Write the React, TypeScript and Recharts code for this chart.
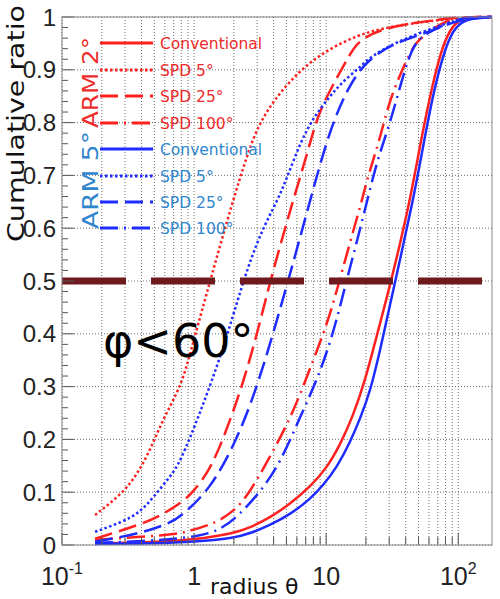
import React from 'react';
import { LineChart, Line, XAxis, YAxis, CartesianGrid, ReferenceLine } from 'recharts';

// ---- data (x = radius θ, y = cumulative ratio) ----
const arm2Conventional: [number, number][] = [
  [0.178, 0.003], [0.5, 0.005], [1, 0.01], [2, 0.022], [2.66, 0.033], [3.77, 0.052], [5.34, 0.078],
  [7.56, 0.11], [10.18, 0.147], [12.76, 0.19], [16, 0.245], [19.75, 0.312], [24.35, 0.4], [31.1, 0.5],
  [43.3, 0.653], [51.5, 0.76], [64.7, 0.88], [77, 0.95], [91, 0.985], [109, 0.998], [130, 1], [180, 1],
];
const arm2Spd5: [number, number][] = [
  [0.178, 0.057], [0.29, 0.098], [0.39, 0.142], [0.49, 0.193], [0.58, 0.237], [0.69, 0.272],
  [0.83, 0.315], [1.0, 0.39], [1.32, 0.5], [1.97, 0.653], [2.5, 0.735], [3.0, 0.79], [4.0, 0.843],
  [6.35, 0.9], [10.2, 0.938], [17.5, 0.966], [27, 0.979], [50, 0.99], [100, 0.998], [180, 1],
];
const arm2Spd25: [number, number][] = [
  [0.178, 0.012], [0.41, 0.04], [0.58, 0.058], [0.83, 0.083], [0.98, 0.1], [1.3, 0.14], [1.66, 0.2],
  [2.31, 0.3], [3.0, 0.4], [3.77, 0.5], [4.89, 0.6], [5.62, 0.653], [7.16, 0.74], [8, 0.785],
  [9.2, 0.83], [12.1, 0.886], [15.2, 0.93], [17.5, 0.955], [27, 0.98], [65, 0.994], [103, 1], [180, 1],
];
const arm2Spd100: [number, number][] = [
  [0.178, 0.01], [0.69, 0.019], [0.88, 0.025], [1.49, 0.042], [2.0, 0.065], [2.52, 0.091],
  [3.77, 0.167], [5.62, 0.25], [7.98, 0.35], [10.2, 0.42], [12.3, 0.49], [15.2, 0.575], [18.7, 0.653],
  [20.5, 0.695], [25.6, 0.77], [30.6, 0.85], [43.5, 0.935], [49, 0.956], [73, 0.989], [103, 1], [180, 1],
];
const arm5Conventional: [number, number][] = [
  [0.178, 0.002], [0.5, 0.003], [1, 0.006], [2, 0.013], [2.66, 0.022], [3.77, 0.038], [5.34, 0.058],
  [7.56, 0.087], [9.49, 0.113], [12.1, 0.148], [15.2, 0.195], [18.1, 0.24], [21.5, 0.29], [25.7, 0.37],
  [33.3, 0.5], [45.6, 0.653], [54.6, 0.76], [64.7, 0.856], [77, 0.93], [91, 0.975], [109, 0.994],
  [150, 1], [180, 1],
];
const arm5Spd5: [number, number][] = [
  [0.178, 0.025], [0.29, 0.044], [0.39, 0.062], [0.49, 0.09], [0.66, 0.13], [0.78, 0.155],
  [1.11, 0.25], [1.66, 0.37], [2.35, 0.5], [3.16, 0.59], [4.33, 0.655], [5.07, 0.697], [6.35, 0.761],
  [8, 0.81], [10.7, 0.85], [13, 0.875], [18, 0.905], [23, 0.93], [36, 0.955], [65, 0.98], [110, 0.998],
  [180, 1],
];
const arm5Spd25: [number, number][] = [
  [0.178, 0.006], [0.41, 0.023], [0.66, 0.042], [0.78, 0.053], [1.32, 0.104], [2.12, 0.2], [3.0, 0.3],
  [3.96, 0.4], [5.15, 0.5], [6.35, 0.583], [7.57, 0.653], [10.7, 0.79], [15.2, 0.875], [20.5, 0.918],
  [32, 0.95], [58, 0.97], [98, 0.995], [180, 1],
];
const arm5Spd100: [number, number][] = [
  [0.178, 0.004], [0.5, 0.008], [1.11, 0.016], [1.6, 0.03], [2.12, 0.053], [3.16, 0.1], [4.49, 0.155],
  [6.35, 0.243], [8.55, 0.3125], [11.3, 0.4], [13.9, 0.49], [17.2, 0.578], [20.5, 0.653], [24.4, 0.73],
  [30.6, 0.8], [38.6, 0.894], [46, 0.95], [58, 0.97], [92, 0.994], [120, 1], [180, 1],
];

const xTicks = [
  0.1, 0.2, 0.3, 0.4, 0.5, 0.6, 0.7, 0.8, 0.9,
  1, 2, 3, 4, 5, 6, 7, 8, 9,
  10, 20, 30, 40, 50, 60, 70, 80, 90,
  100,
];
const xDecades: Record<string, [string, string]> = { '0.1': ['10', '-1'], '1': ['1', ''], '10': ['10', ''], '100': ['10', '2'] };
const yTicks = Array.from({ length: 51 }, (_, i) => i / 50);
const yMajor = [0, 0.1, 0.2, 0.3, 0.4, 0.5, 0.6, 0.7, 0.8, 0.9, 1];
const yLabels = ['0', '0.1', '0.2', '0.3', '0.4', '0.5', '0.6', '0.7', '0.8', '0.9', '1'];

const RED = '#ff2020';
const BLUE = '#1f2cff';
const RED_TXT = '#ee2a2a';
const BLUE_TXT = '#2f86cc';
const DOT = '2.5 2.5';
const DASH = '18 7';
const DASHDOT = '18 6 2 6';

const series = [
  { name: 'ARM 2° Conventional', data: arm2Conventional, color: RED, dash: undefined as string | undefined },
  { name: 'ARM 2° SPD 5°', data: arm2Spd5, color: RED, dash: DOT },
  { name: 'ARM 2° SPD 25°', data: arm2Spd25, color: RED, dash: DASH },
  { name: 'ARM 2° SPD 100°', data: arm2Spd100, color: RED, dash: DASHDOT },
  { name: 'ARM 5° Conventional', data: arm5Conventional, color: BLUE, dash: undefined as string | undefined },
  { name: 'ARM 5° SPD 5°', data: arm5Spd5, color: BLUE, dash: DOT },
  { name: 'ARM 5° SPD 25°', data: arm5Spd25, color: BLUE, dash: DASH },
  { name: 'ARM 5° SPD 100°', data: arm5Spd100, color: BLUE, dash: DASHDOT },
];
const legendLabels = ['Conventional', 'SPD 5°', 'SPD 25°', 'SPD 100°', 'Conventional', 'SPD 5°', 'SPD 25°', 'SPD 100°'];

const toPts = (arr: [number, number][]) => arr.map(([x, y]) => ({ x, y }));

const W = 500;
const H = 599;
const PLOT = { left: 62, top: 17, right: 492, bottom: 545 };

const XTick = (props: any) => {
  const { x, y, payload } = props;
  const v = payload.value;
  const dec = xDecades[String(v)];
  return (
    <g>
      <line x1={x} y1={y} x2={x} y2={y - (dec ? 12 : 8)} stroke="#555" strokeWidth={1} />
      {dec && (
        <text x={x} y={y + 40} textAnchor="middle" fontFamily="Liberation Sans, Arial, sans-serif" fontSize={25} fill="#222">
          {dec[0]}
          {dec[1] && (
            <tspan dy={-11} fontSize={16}>{dec[1]}</tspan>
          )}
        </text>
      )}
    </g>
  );
};

const YTick = (props: any) => {
  const { x, y, payload } = props;
  const idx = Math.round(payload.value * 50);
  const major = idx % 5 === 0;
  return (
    <g>
      <line x1={x} y1={y} x2={x + (major ? 12 : 6)} y2={y} stroke="#555" strokeWidth={1} />
      {major && (
        <text x={x - 6} y={y + 8.5} textAnchor="end" fontFamily="Liberation Sans, Arial, sans-serif" fontSize={24} fill="#222">
          {yLabels[idx / 5]}
        </text>
      )}
    </g>
  );
};

const legendY = [43, 70, 96, 123, 149, 176, 202, 228];

export default function App() {
  return (
    <div style={{ position: 'absolute', left: 0, top: 0, width: W, height: H, background: '#fff' }}>
      <LineChart width={W} height={H} margin={{ top: PLOT.top, right: W - PLOT.right, bottom: 0, left: 0 }}>
        <CartesianGrid
          stroke="#707070"
          strokeDasharray="1 2"
          horizontalValues={yMajor}
          verticalValues={xTicks}
        />
        <XAxis
          dataKey="x"
          type="number"
          scale="log"
          domain={[0.1, 180]}
          allowDataOverflow
          ticks={xTicks}
          interval={0}
          height={H - PLOT.bottom}
          tickSize={0}
          tickMargin={0}
          tickLine={false}
          axisLine={false}
          tick={<XTick />}
        />
        <YAxis
          type="number"
          domain={[0, 1]}
          ticks={yTicks}
          interval={0}
          width={PLOT.left}
          tickSize={0}
          tickMargin={0}
          tickLine={false}
          axisLine={false}
          tick={<YTick />}
        />
        {series.map((s) => (
          <Line
            key={s.name}
            name={s.name}
            data={toPts(s.data)}
            dataKey="y"
            type="basis"
            stroke={s.color}
            strokeWidth={2.5}
            strokeDasharray={s.dash}
            dot={false}
            activeDot={false}
            isAnimationActive={false}
          />
        ))}
        <ReferenceLine y={0.5} stroke="#6e1a1e" strokeWidth={7} strokeDasharray="64 25" />
      </LineChart>
      <svg width={W} height={H} style={{ position: 'absolute', left: 0, top: 0, pointerEvents: 'none' }}>
        <rect x={PLOT.left} y={PLOT.top} width={PLOT.right - PLOT.left} height={PLOT.bottom - PLOT.top} fill="none" stroke="#888" strokeWidth={1} />
        {series.map((s, i) => (
          <g key={s.name}>
            <line x1={100} x2={153} y1={legendY[i]} y2={legendY[i]} stroke={s.color} strokeWidth={3} strokeDasharray={s.dash} />
            <text x={160} y={legendY[i] + 6} fontFamily="DejaVu Sans, sans-serif" fontSize={15.5} fill={i < 4 ? RED_TXT : BLUE_TXT}>
              {legendLabels[i]}
            </text>
          </g>
        ))}
        <text transform="translate(98,128) rotate(-90)" fontFamily="DejaVu Sans, sans-serif" fontSize={21} fill={RED_TXT} textLength={91} lengthAdjust="spacingAndGlyphs">
          ARM 2°
        </text>
        <text transform="translate(98,229) rotate(-90)" fontFamily="DejaVu Sans, sans-serif" fontSize={21} fill={BLUE_TXT} textLength={98} lengthAdjust="spacingAndGlyphs">
          ARM 5°
        </text>
        <text transform="translate(24,242) rotate(-90)" fontFamily="DejaVu Sans, sans-serif" fontSize={23} fill="#111" textLength={237} lengthAdjust="spacingAndGlyphs">
          Cumulative ratio
        </text>
        <text x={210} y={594} fontFamily="DejaVu Sans, sans-serif" fontSize={22} fill="#111">
          radius θ
        </text>
        <text x={103} y={357} fontFamily="DejaVu Sans, sans-serif" fontSize={46} fill="#000">
          φ&lt;60°
        </text>
      </svg>
    </div>
  );
}
